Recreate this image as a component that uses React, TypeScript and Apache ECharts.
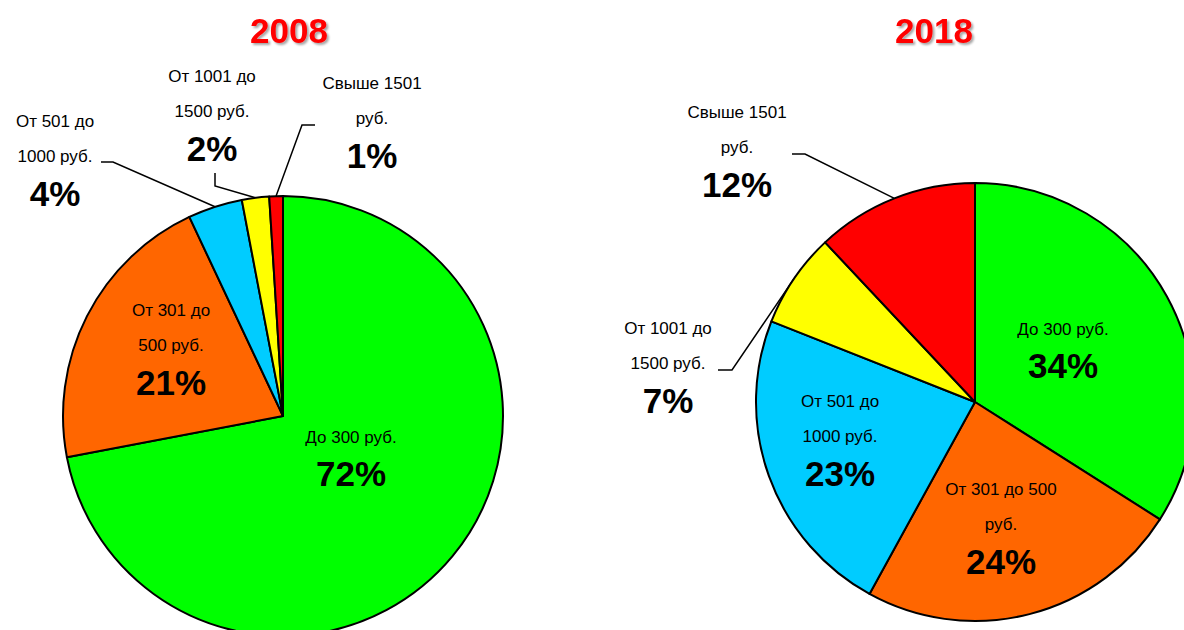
import React, { useEffect, useRef } from 'react';
import * as echarts from 'echarts';

// ---- data ----
const categories = ['До 300 руб.', 'От 301 до 500 руб.', 'От 501 до 1000 руб.', 'От 1001 до 1500 руб.', 'Свыше 1501 руб.'];
const years = ['2008', '2018'];
const values2008 = [72, 21, 4, 2, 1];
const values2018 = [34, 24, 23, 7, 12];
const labelText2008 = ['До 300 руб.', 'От 301 до\n500 руб.', 'От 501 до\n1000 руб.', 'От 1001 до\n1500 руб.', 'Свыше 1501\nруб.'];
const labelText2018 = ['До 300 руб.', 'От 301 до 500\nруб.', 'От 501 до\n1000 руб.', 'От 1001 до\n1500 руб.', 'Свыше 1501\nруб.'];

// ---- styles / layout ----
const colors = ['#00FF00', '#FF6600', '#00CCFF', '#FFFF00', '#FF0000'];
const FONT = 'Arial, "Liberation Sans", sans-serif';

type PieLayout = {
  center: [number, number];
  radius: number;
  titleLeft: number;
  labelPos: [number, number][];
  elbows: ([number, number][] | null)[];
};

const layouts: PieLayout[] = [
  {
    center: [283, 416],
    radius: 220,
    titleLeft: 245,
    labelPos: [[351, 456], [171, 347], [55, 158], [212, 113], [372, 120]],
    elbows: [null, null, [[113, 162], [101, 162]], [[215, 186], [215, 173]], [[302, 125], [315, 125]]],
  },
  {
    center: [975, 402],
    radius: 219,
    titleLeft: 890,
    labelPos: [[1063, 348], [1001, 526], [840, 438], [668, 365], [737, 149]],
    elbows: [null, null, null, [[732, 370], [718, 370]], [[805, 154], [792, 154]]],
  },
];

function buildSeries(values: number[], texts: string[], lay: PieLayout, idx: number) {
  const total = values.reduce((a, b) => a + b, 0);
  const mids: number[] = [];
  let cum = 0;
  values.forEach((v) => {
    mids.push(((cum + v / 2) / total) * Math.PI * 2);
    cum += v;
  });
  return {
    type: 'pie',
    name: years[idx],
    center: lay.center,
    radius: lay.radius,
    startAngle: 90,
    clockwise: true,
    avoidLabelOverlap: false,
    itemStyle: { borderColor: '#000', borderWidth: 2 },
    emphasis: { disabled: true },
    label: {
      show: true,
      position: 'inside',
      color: '#000',
      align: 'center',
      formatter: (p: any) => `{n|${texts[p.dataIndex]}}\n{p|${p.value}%}`,
      rich: {
        n: { fontSize: 17, lineHeight: 35, fontFamily: FONT, color: '#000', align: 'center' },
        p: { fontSize: 35, lineHeight: 38, fontWeight: 'bold', fontFamily: FONT, color: '#000', align: 'center' },
      },
    },
    labelLine: { show: false, lineStyle: { color: '#000', width: 1.5 } },
    labelLayout: (params: any) => {
      const i = params.dataIndex;
      const [x, y] = lay.labelPos[i];
      const res: any = { x, y, align: 'center', verticalAlign: 'middle' };
      const el = lay.elbows[i];
      if (el) {
        const a = mids[i];
        const edge = [lay.center[0] + lay.radius * Math.sin(a), lay.center[1] - lay.radius * Math.cos(a)];
        res.labelLinePoints = [edge, ...el];
      }
      return res;
    },
    data: values.map((v, i) => ({
      name: categories[i],
      value: v,
      itemStyle: { color: colors[i] },
      ...(lay.elbows[i]
        ? { label: { position: 'outside' }, labelLine: { show: true, length: 10, length2: 10, lineStyle: { color: '#000', width: 1.5 } } }
        : {}),
    })),
  };
}

export default function App() {
  const ref = useRef<HTMLDivElement>(null);
  useEffect(() => {
    if (!ref.current) return;
    const chart = echarts.init(ref.current, undefined, { renderer: 'svg' });
    chart.setOption({
      animation: false,
      backgroundColor: '#fff',
      title: years.map((y, i) => ({
        text: y,
        left: layouts[i].titleLeft,
        top: 8,
        textStyle: {
          fontSize: 35,
          fontWeight: 'bold',
          fontFamily: FONT,
          color: '#FF0000',
          textShadowColor: 'rgba(0,0,0,0.35)',
          textShadowOffsetX: 2,
          textShadowOffsetY: 2,
          textShadowBlur: 2,
        },
      })),
      series: [
        buildSeries(values2008, labelText2008, layouts[0], 0),
        buildSeries(values2018, labelText2018, layouts[1], 1),
      ],
    });
    return () => chart.dispose();
  }, []);
  return <div ref={ref} style={{ position: 'fixed', left: 0, top: 0, width: 1184, height: 630 }} />;
}
